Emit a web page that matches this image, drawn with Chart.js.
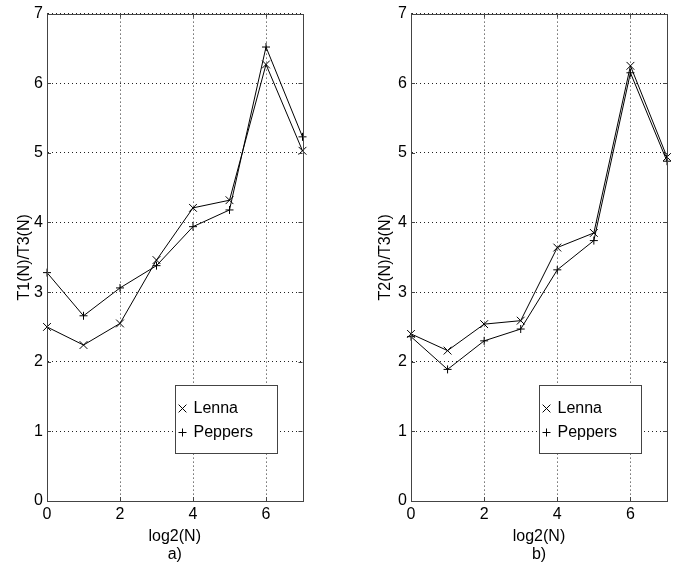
<!DOCTYPE html>
<html>
<head>
<meta charset="utf-8">
<script src="https://cdn.jsdelivr.net/npm/chart.js@4.4.0/dist/chart.umd.min.js"></script>
<style>
  html, body { margin: 0; padding: 0; background: #fff; overflow: hidden; }
  .painel { position: absolute; top: 0; width: 339px; height: 564px; }
</style>
</head>
<body>
<div class="painel" style="left:0"><canvas id="graficoA" width="339" height="564"></canvas></div>
<div class="painel" style="left:339px"><canvas id="graficoB" width="339" height="564"></canvas></div>
<script>
// dados
const xValues = [0, 1, 2, 3, 4, 5, 6, 7];
const xTicks = [0, 2, 4, 6];
const yTicks = [0, 1, 2, 3, 4, 5, 6, 7];
const seriesNames = ["Lenna", "Peppers"];
const lennaA = [2.50, 2.24, 2.55, 3.46, 4.21, 4.32, 6.27, 5.03];
const peppersA = [3.28, 2.66, 3.06, 3.38, 3.94, 4.18, 6.52, 5.23];
const lennaB = [2.40, 2.16, 2.54, 2.59, 3.64, 3.85, 6.25, 4.94];
const peppersB = [2.36, 1.89, 2.30, 2.47, 3.32, 3.74, 6.15, 4.88];

const fonte = { family: "'Liberation Sans', Arial, sans-serif", size: 16 };
const corEixo = "#444";

// caixa, marcas internas e legenda no estilo matlab
const moldura = {
  id: "moldura",
  afterDraw(chart) {
    const { ctx, chartArea: a, scales } = chart;
    ctx.save();
    ctx.strokeStyle = corEixo;
    ctx.lineWidth = 1;
    ctx.strokeRect(Math.round(a.left) + 0.5, Math.round(a.top) + 0.5,
      Math.round(a.right - a.left), Math.round(a.bottom - a.top));
    ctx.beginPath();
    xTicks.forEach(v => {
      const px = Math.round(scales.x.getPixelForValue(v)) + 0.5;
      ctx.moveTo(px, a.bottom); ctx.lineTo(px, a.bottom - 4);
      ctx.moveTo(px, a.top); ctx.lineTo(px, a.top + 4);
    });
    yTicks.forEach(v => {
      const py = Math.round(scales.y.getPixelForValue(v)) + 0.5;
      ctx.moveTo(a.left, py); ctx.lineTo(a.left + 4, py);
      ctx.moveTo(a.right, py); ctx.lineTo(a.right - 4, py);
    });
    ctx.stroke();

    // legenda
    const bx = Math.round(a.left + 128) + 0.5, by = 385.5, bw = 102, bh = 68;
    ctx.fillStyle = "#fff";
    ctx.fillRect(bx, by, bw, bh);
    ctx.strokeStyle = corEixo;
    ctx.strokeRect(bx, by, bw, bh);
    ctx.font = `${fonte.size}px ${fonte.family}`;
    ctx.textBaseline = "middle";
    chart.data.datasets.forEach((ds, i) => {
      const cy = by + 23 + i * 24;
      ctx.strokeStyle = "#000";
      ctx.lineWidth = 1;
      Chart.helpers.drawPoint(ctx, { pointStyle: ds.pointStyle, radius: ds.pointRadius, borderWidth: 1 }, bx + 7, cy);
      ctx.fillStyle = "#000";
      ctx.fillText(ds.label, bx + 18, cy);
    });
    ctx.restore();
  }
};

function montaGrafico(id, lenna, peppers, tituloY, legendaX, pad, larguraY) {
  const ctx = document.getElementById(id).getContext("2d");
  return new Chart(ctx, {
    type: "scatter",
    data: {
      datasets: [
        {
          label: seriesNames[0],
          data: xValues.map((x, i) => ({ x, y: lenna[i] })),
          showLine: true,
          clip: false,
          borderColor: "#000",
          backgroundColor: "#000",
          borderWidth: 1,
          pointStyle: "crossRot",
          pointRadius: 5.5,
          pointBorderWidth: 1,
        },
        {
          label: seriesNames[1],
          data: xValues.map((x, i) => ({ x, y: peppers[i] })),
          showLine: true,
          clip: false,
          borderColor: "#000",
          backgroundColor: "#000",
          borderWidth: 1,
          pointStyle: "cross",
          pointRadius: 4,
          pointBorderWidth: 1,
        },
      ],
    },
    options: {
      responsive: false,
      animation: false,
      layout: { padding: pad },
      plugins: { legend: { display: false }, tooltip: { enabled: false } },
      scales: {
        x: {
          type: "linear",
          min: 0,
          max: 7,
          afterBuildTicks: s => { s.ticks = xTicks.map(v => ({ value: v })); },
          afterFit: s => { s.height = 63; },
          grid: { color: "#222", drawTicks: false },
          border: { color: corEixo, dash: [1, 3] },
          ticks: { color: "#000", font: fonte, padding: 4 },
          title: {
            display: true,
            text: [legendaX, id === "graficoA" ? "a)" : "b)"],
            color: "#000",
            font: { ...fonte, lineHeight: 1.15 },
            padding: { top: 0, bottom: 0 },
          },
        },
        y: {
          min: 0,
          max: 7,
          afterBuildTicks: s => { s.ticks = yTicks.map(v => ({ value: v })); },
          afterFit: s => { s.width = larguraY; },
          grid: { color: "#222", drawTicks: false },
          border: { color: corEixo, dash: [1, 3] },
          ticks: { color: "#000", font: fonte, padding: 4 },
          title: {
            display: true,
            text: tituloY,
            color: "#000",
            font: fonte,
            padding: { top: 4, bottom: 0 },
          },
        },
      },
    },
    plugins: [moldura],
  });
}

montaGrafico("graficoA", lennaA, peppersA, "T1(N)/T3(N)", "log2(N)",
  { left: 11, top: 12, right: 36.5, bottom: 0 }, 36);
montaGrafico("graficoB", lennaB, peppersB, "T2(N)/T3(N)", "log2(N)",
  { left: 33, top: 12, right: 11, bottom: 0 }, 39);
</script>
</body>
</html>
